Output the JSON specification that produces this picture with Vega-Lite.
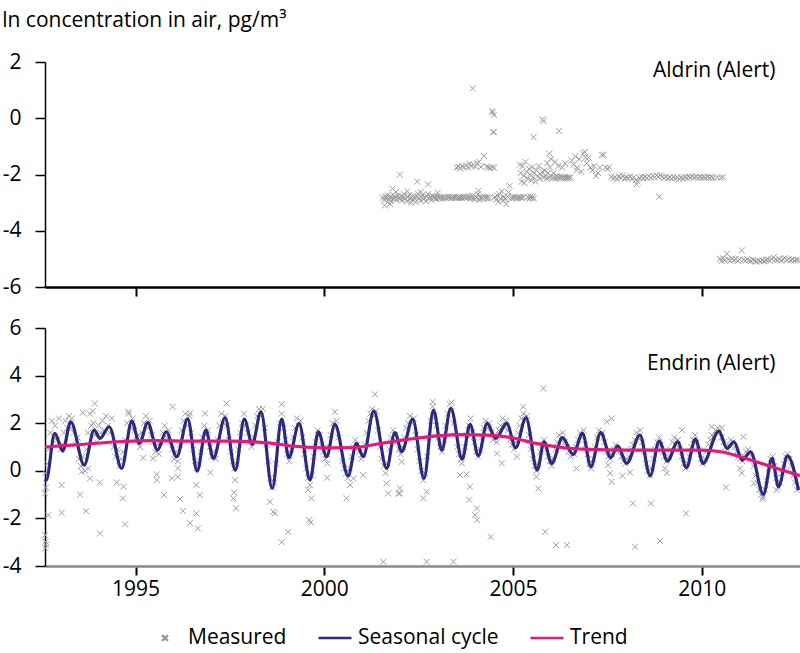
{
"$schema": "https://vega.github.io/schema/vega-lite/v6.json",
"padding": {"left": 2, "right": 0, "top": 10, "bottom": 4},
"title": {"text": "ln concentration in air, pg/m³", "anchor": "start", "frame": "bounds", "fontSize": 21, "fontWeight": "normal", "font": "Open Sans", "color": "black", "offset": 20},
"config": {
  "view": {"stroke": null},
  "font": "Open Sans",
  "axis": {"grid": false, "domainColor": "black", "tickColor": "black", "labelColor": "black", "labelFontSize": 21, "labelFont": "Open Sans", "title": null}
},
"spacing": 20,
"datasets": {
"aldrin": [
{"x":2001.55,"y":-2.82},{"x":2001.58,"y":-2.9},{"x":2001.61,"y":-2.78},{"x":2001.64,"y":-2.85},{"x":2001.67,"y":-2.75},{"x":2001.7,"y":-2.88},{"x":2001.73,"y":-2.8},{"x":2001.76,"y":-2.95},{"x":2001.79,"y":-2.84},{"x":2001.82,"y":-2.72},{"x":2001.85,"y":-2.86},{"x":2001.88,"y":-2.79},{"x":2001.91,"y":-2.9},{"x":2001.94,"y":-2.76},{"x":2001.97,"y":-2.83},{"x":2002.0,"y":-2.88},{"x":2002.03,"y":-2.78},{"x":2002.06,"y":-2.92},{"x":2002.09,"y":-2.81},{"x":2002.12,"y":-2.7},{"x":2002.15,"y":-2.86},{"x":2002.18,"y":-2.95},{"x":2002.21,"y":-2.8},{"x":2002.24,"y":-2.74},{"x":2002.27,"y":-2.87},{"x":2002.3,"y":-2.82},{"x":2002.33,"y":-2.9},{"x":2002.36,"y":-2.76},{"x":2002.39,"y":-2.84},{"x":2002.42,"y":-2.98},{"x":2002.45,"y":-2.79},{"x":2002.48,"y":-2.68},{"x":2002.51,"y":-2.85},{"x":2002.54,"y":-2.93},{"x":2002.57,"y":-2.8},{"x":2002.6,"y":-2.72},{"x":2002.63,"y":-2.88},{"x":2002.66,"y":-2.83},{"x":2002.69,"y":-2.95},{"x":2002.72,"y":-2.78},{"x":2002.75,"y":-2.7},{"x":2002.78,"y":-2.86},{"x":2002.81,"y":-2.81},{"x":2002.84,"y":-2.9},{"x":2002.87,"y":-2.76},{"x":2002.9,"y":-2.84},{"x":2002.93,"y":-2.8},{"x":2002.96,"y":-2.87},{"x":2002.99,"y":-2.78},{"x":2003.02,"y":-2.83},{"x":2003.05,"y":-2.8},{"x":2003.08,"y":-2.85},{"x":2003.11,"y":-2.81},{"x":2003.14,"y":-2.84},{"x":2003.17,"y":-2.79},{"x":2003.2,"y":-2.82},{"x":2003.23,"y":-2.84},{"x":2003.26,"y":-2.8},{"x":2003.29,"y":-2.83},{"x":2003.32,"y":-2.81},{"x":2003.35,"y":-2.84},{"x":2003.38,"y":-2.82},{"x":2003.41,"y":-2.8},{"x":2003.44,"y":-2.83},{"x":2003.47,"y":-2.81},{"x":2003.5,"y":-2.84},{"x":2003.53,"y":-2.82},{"x":2003.56,"y":-2.8},{"x":2003.59,"y":-2.83},{"x":2003.62,"y":-2.81},{"x":2003.65,"y":-2.84},{"x":2003.68,"y":-2.8},{"x":2003.71,"y":-2.82},{"x":2003.74,"y":-2.79},{"x":2003.77,"y":-2.84},{"x":2003.8,"y":-2.81},{"x":2003.83,"y":-2.78},{"x":2003.86,"y":-2.86},{"x":2003.89,"y":-2.8},{"x":2003.92,"y":-2.75},{"x":2003.95,"y":-2.84},{"x":2003.98,"y":-2.88},{"x":2004.01,"y":-2.78},{"x":2004.04,"y":-2.83},{"x":2004.07,"y":-2.7},{"x":2004.1,"y":-2.9},{"x":2004.13,"y":-2.8},{"x":2004.16,"y":-2.86},{"x":2004.19,"y":-2.82},{"x":2004.22,"y":-2.85},{"x":2004.25,"y":-2.8},{"x":2004.28,"y":-2.84},{"x":2004.31,"y":-2.81},{"x":2004.34,"y":-2.86},{"x":2004.37,"y":-2.82},
{"x":2001.74,"y":-3.05},{"x":2001.6,"y":-3.1},{"x":2001.81,"y":-2.5},{"x":2002.0,"y":-2.0},{"x":2002.46,"y":-2.25},{"x":2002.75,"y":-2.35},{"x":2004.08,"y":-2.58},{"x":2001.9,"y":-2.62},{"x":2002.2,"y":-2.6},{"x":2002.3,"y":-3.0},{"x":2002.55,"y":-2.62},{"x":2003.0,"y":-2.65},
{"x":2004.52,"y":-2.8},{"x":2004.55,"y":-2.9},{"x":2004.58,"y":-2.75},{"x":2004.61,"y":-2.98},{"x":2004.64,"y":-2.7},{"x":2004.67,"y":-2.85},{"x":2004.7,"y":-2.6},{"x":2004.73,"y":-2.92},{"x":2004.76,"y":-2.8},{"x":2004.79,"y":-2.88},{"x":2004.82,"y":-3.05},{"x":2004.85,"y":-2.78},{"x":2004.88,"y":-2.64},{"x":2004.91,"y":-2.4},{"x":2004.94,"y":-2.82},{"x":2004.97,"y":-2.86},{"x":2005.0,"y":-2.8},{"x":2005.03,"y":-2.83},{"x":2005.06,"y":-2.79},{"x":2005.09,"y":-2.84},{"x":2005.12,"y":-2.81},{"x":2005.15,"y":-2.83},{"x":2005.18,"y":-2.8},{"x":2005.21,"y":-2.82},{"x":2005.24,"y":-2.84},{"x":2005.27,"y":-2.8},
{"x":2005.4,"y":-2.8},{"x":2005.43,"y":-2.86},{"x":2005.46,"y":-2.78},{"x":2005.49,"y":-2.84},{"x":2005.52,"y":-2.8},{"x":2005.55,"y":-2.85},
{"x":2003.93,"y":1.06},{"x":2004.46,"y":0.2},{"x":2004.49,"y":0.12},{"x":2004.44,"y":0.25},{"x":2004.49,"y":-0.49},{"x":2004.47,"y":-0.5},{"x":2005.78,"y":-0.04},{"x":2005.81,"y":-0.1},{"x":2006.22,"y":-0.45},{"x":2005.54,"y":-0.67},{"x":2004.23,"y":-1.34},
{"x":2003.5,"y":-1.75},{"x":2003.55,"y":-1.72},{"x":2003.6,"y":-1.78},{"x":2003.65,"y":-1.7},{"x":2003.7,"y":-1.74},{"x":2003.75,"y":-1.68},{"x":2003.8,"y":-1.76},{"x":2003.85,"y":-1.62},{"x":2003.9,"y":-1.7},{"x":2003.95,"y":-1.65},{"x":2004.0,"y":-1.72},{"x":2004.05,"y":-1.6},{"x":2004.1,"y":-1.55},{"x":2004.15,"y":-1.73},{"x":2004.3,"y":-1.72},{"x":2004.35,"y":-1.75},{"x":2004.4,"y":-1.78},{"x":2004.45,"y":-1.74},{"x":2004.5,"y":-1.76},
{"x":2005.18,"y":-1.65},{"x":2005.2,"y":-1.95},{"x":2005.23,"y":-2.25},{"x":2005.25,"y":-1.7},{"x":2005.28,"y":-2.05},{"x":2005.3,"y":-2.3},{"x":2005.33,"y":-1.55},{"x":2005.36,"y":-1.9},{"x":2005.39,"y":-2.15},{"x":2005.42,"y":-1.8},{"x":2005.45,"y":-2.0},{"x":2005.48,"y":-2.2},{"x":2005.5,"y":-1.75},{"x":2005.53,"y":-2.1},{"x":2005.56,"y":-1.95},{"x":2005.59,"y":-2.25},{"x":2005.62,"y":-1.85},{"x":2005.65,"y":-2.05},{"x":2005.68,"y":-1.7},{"x":2005.71,"y":-2.15},{"x":2005.74,"y":-2.0},{"x":2005.77,"y":-1.9},{"x":2005.8,"y":-2.1},{"x":2005.83,"y":-1.85},{"x":2005.86,"y":-2.05},{"x":2005.89,"y":-2.15},{"x":2005.92,"y":-1.95},{"x":2005.95,"y":-2.1},{"x":2005.98,"y":-1.75},{"x":2006.01,"y":-2.05},{"x":2006.04,"y":-2.12},{"x":2006.07,"y":-1.95},{"x":2006.1,"y":-2.1},{"x":2006.13,"y":-2.15},{"x":2006.16,"y":-2.05},{"x":2006.19,"y":-2.1},{"x":2006.22,"y":-2.13},{"x":2006.25,"y":-2.08},{"x":2006.28,"y":-2.12},{"x":2006.31,"y":-2.1},{"x":2006.34,"y":-2.14},{"x":2006.37,"y":-2.09},{"x":2006.4,"y":-2.12},{"x":2006.43,"y":-2.1},{"x":2006.46,"y":-2.13},{"x":2006.49,"y":-2.1},{"x":2006.52,"y":-2.12},
{"x":2005.9,"y":-1.6},{"x":2006.0,"y":-1.45},{"x":2006.12,"y":-1.55},{"x":2006.2,"y":-1.7},{"x":2006.3,"y":-1.75},{"x":2006.38,"y":-1.6},{"x":2005.96,"y":-1.25},
{"x":2006.55,"y":-1.5},{"x":2006.6,"y":-1.65},{"x":2006.65,"y":-1.35},{"x":2006.7,"y":-1.75},{"x":2006.75,"y":-1.45},{"x":2006.8,"y":-1.9},{"x":2006.85,"y":-1.25},{"x":2006.9,"y":-1.2},{"x":2006.95,"y":-1.6},{"x":2007.0,"y":-1.4},{"x":2007.05,"y":-1.75},{"x":2007.1,"y":-1.85},{"x":2007.15,"y":-1.7},{"x":2007.2,"y":-2.05},{"x":2007.25,"y":-1.95},{"x":2007.3,"y":-1.75},{"x":2007.35,"y":-1.3},{"x":2007.4,"y":-1.3},{"x":2007.45,"y":-1.75},{"x":2007.5,"y":-1.8},{"x":2007.55,"y":-1.75},{"x":2006.68,"y":-1.85},{"x":2006.92,"y":-1.4},
{"x":2007.6,"y":-2.08},{"x":2007.65,"y":-2.14},{"x":2007.7,"y":-2.1},{"x":2007.75,"y":-2.17},{"x":2007.8,"y":-2.06},{"x":2007.85,"y":-2.12},{"x":2007.9,"y":-2.04},{"x":2007.95,"y":-2.15},{"x":2008.0,"y":-2.1},{"x":2008.05,"y":-2.13},{"x":2008.1,"y":-2.07},{"x":2008.15,"y":-2.16},{"x":2008.2,"y":-2.1},{"x":2008.25,"y":-2.2},{"x":2008.27,"y":-2.35},{"x":2008.3,"y":-2.25},{"x":2008.35,"y":-2.12},{"x":2008.4,"y":-2.08},{"x":2008.45,"y":-2.13},{"x":2008.5,"y":-2.09},{"x":2008.55,"y":-2.12},{"x":2008.6,"y":-2.06},{"x":2008.65,"y":-2.11},{"x":2008.7,"y":-2.05},{"x":2008.75,"y":-2.1},{"x":2008.8,"y":-2.03},{"x":2008.85,"y":-2.08},{"x":2008.87,"y":-2.79},{"x":2008.9,"y":-2.02},{"x":2008.95,"y":-2.07},{"x":2009.0,"y":-2.12},{"x":2009.05,"y":-2.08},{"x":2009.1,"y":-2.14},{"x":2009.15,"y":-2.1},{"x":2009.2,"y":-2.15},{"x":2009.25,"y":-2.09},{"x":2009.3,"y":-2.13},{"x":2009.35,"y":-2.1},{"x":2009.4,"y":-2.16},{"x":2009.45,"y":-2.11},{"x":2009.5,"y":-2.14},{"x":2009.55,"y":-2.09},{"x":2009.6,"y":-2.12},{"x":2009.65,"y":-2.08},{"x":2009.7,"y":-2.1},{"x":2009.75,"y":-2.06},{"x":2009.8,"y":-2.11},{"x":2009.85,"y":-2.07},{"x":2009.9,"y":-2.12},{"x":2009.95,"y":-2.08},{"x":2010.0,"y":-2.11},{"x":2010.05,"y":-2.09},{"x":2010.1,"y":-2.12},{"x":2010.15,"y":-2.08},{"x":2010.2,"y":-2.11},{"x":2010.25,"y":-2.1},{"x":2010.3,"y":-2.12},{"x":2010.4,"y":-2.1},{"x":2010.5,"y":-2.11},{"x":2010.56,"y":-2.1},
{"x":2010.48,"y":-5.0},{"x":2010.52,"y":-5.08},{"x":2010.56,"y":-4.98},{"x":2010.6,"y":-5.05},{"x":2010.66,"y":-4.82},{"x":2010.7,"y":-5.02},{"x":2010.75,"y":-5.06},{"x":2010.8,"y":-4.99},{"x":2010.85,"y":-5.04},{"x":2010.9,"y":-5.0},{"x":2010.95,"y":-5.07},{"x":2011.0,"y":-5.02},{"x":2011.06,"y":-4.7},{"x":2011.1,"y":-5.03},{"x":2011.15,"y":-5.06},{"x":2011.2,"y":-5.01},{"x":2011.25,"y":-5.05},{"x":2011.3,"y":-5.08},{"x":2011.35,"y":-5.03},{"x":2011.4,"y":-5.07},{"x":2011.45,"y":-5.1},{"x":2011.5,"y":-5.06},{"x":2011.55,"y":-5.09},{"x":2011.6,"y":-5.05},{"x":2011.65,"y":-5.08},{"x":2011.7,"y":-5.04},{"x":2011.75,"y":-5.02},{"x":2011.8,"y":-5.06},{"x":2011.85,"y":-5.0},{"x":2011.9,"y":-4.95},{"x":2011.95,"y":-5.03},{"x":2012.0,"y":-5.05},{"x":2012.05,"y":-5.0},{"x":2012.1,"y":-5.06},{"x":2012.15,"y":-5.02},{"x":2012.2,"y":-4.97},{"x":2012.25,"y":-5.04},{"x":2012.3,"y":-5.0},{"x":2012.35,"y":-5.05},{"x":2012.4,"y":-5.02},{"x":2012.45,"y":-5.06},{"x":2012.5,"y":-5.03},{"x":2012.55,"y":-5.05}
],
"endrin": [
{"x":1992.61,"y":-0.1},{"x":1992.63,"y":-0.7},{"x":1992.66,"y":0.3},{"x":1992.7,"y":0.9},{"x":1992.74,"y":1.6},{"x":1992.78,"y":2.1},{"x":1992.83,"y":1.4},{"x":1992.87,"y":1.9},{"x":1992.92,"y":1.3},{"x":1992.97,"y":2.2},{"x":1993.02,"y":0.9},{"x":1993.06,"y":1.1},{"x":1993.1,"y":1.6},{"x":1993.14,"y":2.1},{"x":1993.19,"y":1.8},{"x":1993.23,"y":2.3},{"x":1993.28,"y":1.8},{"x":1993.31,"y":2.2},{"x":1993.36,"y":1.6},{"x":1993.41,"y":1.1},{"x":1993.46,"y":1.4},{"x":1993.5,"y":0.5},{"x":1993.55,"y":0.2},{"x":1993.6,"y":0.6},{"x":1993.66,"y":0.0},{"x":1993.7,"y":0.9},{"x":1993.74,"y":1.6},{"x":1993.79,"y":2.4},{"x":1993.83,"y":1.9},{"x":1993.88,"y":2.0},{"x":1993.92,"y":1.5},{"x":1993.97,"y":1.2},{"x":1994.02,"y":1.9},{"x":1994.07,"y":1.6},{"x":1994.12,"y":2.1},{"x":1994.17,"y":1.7},{"x":1994.22,"y":2.3},{"x":1994.27,"y":1.9},{"x":1994.32,"y":1.6},{"x":1994.37,"y":2.2},{"x":1994.42,"y":1.0},{"x":1994.47,"y":0.6},{"x":1994.52,"y":0.9},{"x":1994.57,"y":0.2},{"x":1994.62,"y":0.5},{"x":1994.67,"y":0.8},{"x":1994.72,"y":1.3},{"x":1994.77,"y":2.0},{"x":1994.82,"y":2.4},{"x":1994.87,"y":1.8},{"x":1994.92,"y":2.2},{"x":1994.97,"y":1.7},{"x":1995.02,"y":1.3},{"x":1995.07,"y":1.5},{"x":1995.12,"y":1.0},{"x":1995.17,"y":1.6},{"x":1995.22,"y":2.0},{"x":1995.27,"y":2.3},{"x":1995.32,"y":1.8},{"x":1995.37,"y":2.1},{"x":1995.42,"y":1.5},{"x":1995.47,"y":1.2},{"x":1995.52,"y":0.8},{"x":1995.57,"y":1.1},{"x":1995.62,"y":0.7},{"x":1995.67,"y":1.2},{"x":1995.72,"y":1.6},{"x":1995.77,"y":1.9},{"x":1995.82,"y":1.4},{"x":1995.87,"y":1.7},{"x":1995.92,"y":1.2},{"x":1995.97,"y":0.9},{"x":1996.02,"y":0.5},{"x":1996.07,"y":0.8},{"x":1996.12,"y":0.4},{"x":1996.17,"y":1.1},{"x":1996.22,"y":1.7},{"x":1996.27,"y":2.1},{"x":1996.32,"y":2.4},{"x":1996.37,"y":1.9},{"x":1996.42,"y":2.3},{"x":1996.47,"y":1.6},{"x":1996.52,"y":0.9},{"x":1996.57,"y":0.4},{"x":1996.62,"y":0.1},{"x":1996.67,"y":0.3},{"x":1996.72,"y":0.8},{"x":1996.77,"y":1.4},{"x":1996.82,"y":1.9},{"x":1996.87,"y":1.5},{"x":1996.92,"y":1.7},{"x":1996.97,"y":1.0},{"x":1997.02,"y":0.6},{"x":1997.07,"y":0.8},{"x":1997.12,"y":0.5},{"x":1997.17,"y":1.3},{"x":1997.22,"y":1.9},{"x":1997.27,"y":2.4},{"x":1997.32,"y":2.0},{"x":1997.37,"y":2.3},{"x":1997.42,"y":1.9},{"x":1997.47,"y":1.3},{"x":1997.52,"y":0.8},{"x":1997.57,"y":0.4},{"x":1997.62,"y":0.1},{"x":1997.67,"y":0.3},{"x":1997.72,"y":0.9},{"x":1997.77,"y":1.6},{"x":1997.82,"y":2.0},{"x":1997.87,"y":2.4},{"x":1997.92,"y":1.9},{"x":1997.97,"y":1.6},{"x":1998.02,"y":1.2},{"x":1998.07,"y":1.0},{"x":1998.12,"y":1.4},{"x":1998.17,"y":1.9},{"x":1998.22,"y":2.3},{"x":1998.27,"y":2.6},{"x":1998.32,"y":2.3},{"x":1998.37,"y":2.6},{"x":1998.42,"y":1.8},{"x":1998.47,"y":1.1},{"x":1998.52,"y":0.4},{"x":1998.57,"y":-0.3},{"x":1998.62,"y":-0.7},{"x":1998.67,"y":-0.5},{"x":1998.72,"y":0.3},{"x":1998.77,"y":1.2},{"x":1998.82,"y":2.0},{"x":1998.87,"y":2.4},{"x":1998.92,"y":1.8},{"x":1998.97,"y":1.3},{"x":1999.02,"y":0.7},{"x":1999.07,"y":0.4},{"x":1999.12,"y":0.9},{"x":1999.17,"y":1.4},{"x":1999.22,"y":1.8},{"x":1999.27,"y":2.2},{"x":1999.32,"y":1.9},{"x":1999.37,"y":2.1},{"x":1999.42,"y":1.4},{"x":1999.47,"y":0.7},{"x":1999.52,"y":0.1},{"x":1999.57,"y":-0.3},{"x":1999.62,"y":-0.6},{"x":1999.67,"y":-0.2},{"x":1999.72,"y":0.6},{"x":1999.77,"y":1.2},{"x":1999.82,"y":1.7},{"x":1999.87,"y":1.5},{"x":1999.92,"y":1.1},{"x":1999.97,"y":0.8},{"x":2000.02,"y":0.5},{"x":2000.07,"y":0.7},{"x":2000.12,"y":1.0},{"x":2000.17,"y":1.5},{"x":2000.22,"y":2.0},{"x":2000.27,"y":1.8},{"x":2000.32,"y":2.1},{"x":2000.37,"y":1.4},{"x":2000.42,"y":0.9},{"x":2000.47,"y":0.4},{"x":2000.52,"y":0.1},{"x":2000.57,"y":-0.1},{"x":2000.62,"y":-0.3},{"x":2000.67,"y":0.1},{"x":2000.72,"y":0.6},{"x":2000.77,"y":1.0},{"x":2000.82,"y":1.3},{"x":2000.87,"y":1.1},{"x":2000.92,"y":0.8},{"x":2000.97,"y":0.5},{"x":2001.02,"y":0.7},{"x":2001.07,"y":1.1},{"x":2001.12,"y":1.6},{"x":2001.17,"y":2.1},{"x":2001.22,"y":2.4},{"x":2001.27,"y":2.6},{"x":2001.32,"y":2.3},{"x":2001.37,"y":2.5},{"x":2001.42,"y":1.7},{"x":2001.47,"y":1.0},{"x":2001.52,"y":0.5},{"x":2001.57,"y":0.2},{"x":2001.62,"y":-0.1},{"x":2001.67,"y":0.3},{"x":2001.72,"y":0.9},{"x":2001.77,"y":1.4},{"x":2001.82,"y":1.7},{"x":2001.87,"y":1.5},{"x":2001.92,"y":1.2},{"x":2001.97,"y":0.9},{"x":2002.02,"y":0.7},{"x":2002.07,"y":1.0},{"x":2002.12,"y":1.4},{"x":2002.17,"y":1.8},{"x":2002.22,"y":2.0},{"x":2002.27,"y":2.3},{"x":2002.32,"y":2.0},{"x":2002.37,"y":2.2},{"x":2002.42,"y":1.5},{"x":2002.47,"y":0.9},{"x":2002.52,"y":0.4},{"x":2002.57,"y":0.0},{"x":2002.62,"y":-0.4},{"x":2002.67,"y":-0.1},{"x":2002.72,"y":0.6},{"x":2002.77,"y":1.4},{"x":2002.82,"y":2.1},{"x":2002.87,"y":2.7},{"x":2002.92,"y":2.3},{"x":2002.97,"y":1.9},{"x":2003.02,"y":1.4},{"x":2003.07,"y":1.0},{"x":2003.12,"y":0.8},{"x":2003.17,"y":1.3},{"x":2003.22,"y":1.9},{"x":2003.27,"y":2.4},{"x":2003.32,"y":2.8},{"x":2003.37,"y":2.5},{"x":2003.42,"y":2.0},{"x":2003.47,"y":1.5},{"x":2003.52,"y":1.0},{"x":2003.57,"y":0.7},{"x":2003.62,"y":0.5},{"x":2003.67,"y":0.6},{"x":2003.72,"y":1.0},{"x":2003.77,"y":1.5},{"x":2003.82,"y":1.9},{"x":2003.87,"y":2.2},{"x":2003.92,"y":1.6},{"x":2003.97,"y":1.2},{"x":2004.02,"y":0.8},{"x":2004.07,"y":0.6},{"x":2004.12,"y":0.9},{"x":2004.17,"y":1.4},{"x":2004.22,"y":1.8},{"x":2004.27,"y":2.1},{"x":2004.32,"y":1.8},{"x":2004.37,"y":2.0},{"x":2004.42,"y":1.6},{"x":2004.47,"y":1.3},{"x":2004.52,"y":1.5},{"x":2004.57,"y":1.2},{"x":2004.62,"y":1.7},{"x":2004.67,"y":1.9},{"x":2004.72,"y":2.2},{"x":2004.77,"y":1.8},{"x":2004.82,"y":2.1},{"x":2004.87,"y":1.7},{"x":2004.92,"y":1.3},{"x":2004.97,"y":1.1},{"x":2005.02,"y":0.9},{"x":2005.07,"y":1.2},{"x":2005.12,"y":1.6},{"x":2005.17,"y":1.9},{"x":2005.22,"y":2.2},{"x":2005.27,"y":2.4},{"x":2005.32,"y":2.1},{"x":2005.37,"y":2.3},{"x":2005.42,"y":1.5},{"x":2005.47,"y":0.9},{"x":2005.52,"y":0.5},{"x":2005.57,"y":0.2},{"x":2005.62,"y":0.0},{"x":2005.67,"y":0.3},{"x":2005.72,"y":0.8},{"x":2005.77,"y":1.1},{"x":2005.82,"y":1.3},{"x":2005.87,"y":0.9},{"x":2005.92,"y":0.6},{"x":2005.97,"y":0.4},{"x":2006.02,"y":0.2},{"x":2006.07,"y":0.5},{"x":2006.12,"y":0.9},{"x":2006.17,"y":1.2},{"x":2006.22,"y":1.5},{"x":2006.27,"y":1.3},{"x":2006.32,"y":1.6},{"x":2006.37,"y":1.2},{"x":2006.42,"y":1.0},{"x":2006.47,"y":0.8},{"x":2006.52,"y":0.6},{"x":2006.57,"y":0.9},{"x":2006.62,"y":0.7},{"x":2006.67,"y":1.0},{"x":2006.72,"y":1.3},{"x":2006.77,"y":1.6},{"x":2006.82,"y":1.4},{"x":2006.87,"y":1.7},{"x":2006.92,"y":1.1},{"x":2006.97,"y":0.7},{"x":2007.02,"y":0.3},{"x":2007.07,"y":0.1},{"x":2007.12,"y":0.5},{"x":2007.17,"y":1.0},{"x":2007.22,"y":1.4},{"x":2007.27,"y":1.7},{"x":2007.32,"y":1.5},{"x":2007.37,"y":1.6},{"x":2007.42,"y":1.2},{"x":2007.47,"y":0.8},{"x":2007.52,"y":0.6},{"x":2007.57,"y":0.5},{"x":2007.62,"y":0.7},{"x":2007.67,"y":0.9},{"x":2007.72,"y":1.1},{"x":2007.77,"y":0.9},{"x":2007.82,"y":0.8},{"x":2007.87,"y":0.6},{"x":2007.92,"y":0.4},{"x":2007.97,"y":0.3},{"x":2008.02,"y":0.5},{"x":2008.07,"y":0.6},{"x":2008.12,"y":0.9},{"x":2008.17,"y":1.1},{"x":2008.22,"y":1.3},{"x":2008.27,"y":1.6},{"x":2008.32,"y":1.4},{"x":2008.37,"y":1.7},{"x":2008.42,"y":1.2},{"x":2008.47,"y":0.8},{"x":2008.52,"y":0.3},{"x":2008.57,"y":0.0},{"x":2008.62,"y":-0.2},{"x":2008.67,"y":0.1},{"x":2008.72,"y":0.5},{"x":2008.77,"y":0.9},{"x":2008.82,"y":1.2},{"x":2008.87,"y":1.4},{"x":2008.92,"y":1.1},{"x":2008.97,"y":0.8},{"x":2009.02,"y":0.6},{"x":2009.07,"y":0.4},{"x":2009.12,"y":0.6},{"x":2009.17,"y":0.9},{"x":2009.22,"y":1.2},{"x":2009.27,"y":1.4},{"x":2009.32,"y":1.1},{"x":2009.37,"y":1.3},{"x":2009.42,"y":0.9},{"x":2009.47,"y":0.6},{"x":2009.52,"y":0.3},{"x":2009.57,"y":0.1},{"x":2009.62,"y":0.3},{"x":2009.67,"y":0.6},{"x":2009.72,"y":1.0},{"x":2009.77,"y":1.3},{"x":2009.82,"y":1.5},{"x":2009.87,"y":1.2},{"x":2009.92,"y":0.9},{"x":2009.97,"y":0.5},{"x":2010.02,"y":0.3},{"x":2010.07,"y":0.5},{"x":2010.12,"y":0.8},{"x":2010.17,"y":1.1},{"x":2010.22,"y":1.3},{"x":2010.27,"y":1.5},{"x":2010.32,"y":1.4},{"x":2010.37,"y":1.7},{"x":2010.42,"y":1.8},{"x":2010.47,"y":1.6},{"x":2010.52,"y":1.4},{"x":2010.57,"y":1.2},{"x":2010.62,"y":1.0},{"x":2010.67,"y":0.9},{"x":2010.72,"y":1.1},{"x":2010.77,"y":1.3},{"x":2010.82,"y":1.2},{"x":2010.87,"y":1.0},{"x":2010.92,"y":0.8},{"x":2010.97,"y":0.6},{"x":2011.02,"y":0.5},{"x":2011.07,"y":0.4},{"x":2011.12,"y":0.6},{"x":2011.17,"y":0.8},{"x":2011.22,"y":0.9},{"x":2011.27,"y":0.7},{"x":2011.32,"y":0.6},{"x":2011.37,"y":0.2},{"x":2011.42,"y":-0.2},{"x":2011.47,"y":-0.5},{"x":2011.52,"y":-0.8},{"x":2011.57,"y":-1.0},{"x":2011.62,"y":-1.1},{"x":2011.67,"y":-0.8},{"x":2011.72,"y":-0.4},{"x":2011.77,"y":0.1},{"x":2011.82,"y":0.5},{"x":2011.87,"y":0.6},{"x":2011.92,"y":0.2},{"x":2011.97,"y":-0.3},{"x":2012.02,"y":-0.7},{"x":2012.07,"y":-0.5},{"x":2012.12,"y":-0.1},{"x":2012.17,"y":0.3},{"x":2012.22,"y":0.6},{"x":2012.27,"y":0.7},{"x":2012.32,"y":0.5},{"x":2012.37,"y":0.2},{"x":2012.42,"y":-0.2},{"x":2012.47,"y":-0.5},{"x":2012.52,"y":-0.8},
{"x":1992.6,"y":-0.95},{"x":1992.69,"y":-1.86},{"x":1992.6,"y":-2.7},{"x":1992.63,"y":-3.1},{"x":1992.62,"y":-2.98},{"x":1992.61,"y":-3.25},{"x":1993.04,"y":-0.6},{"x":1993.04,"y":-1.76},{"x":1993.53,"y":-1.0},{"x":1993.69,"y":-1.69},{"x":1994.06,"y":-2.63},{"x":1994.05,"y":-0.49},{"x":1993.57,"y":-0.04},{"x":1993.74,"y":0.1},{"x":1993.79,"y":-0.32},{"x":1994.5,"y":-0.49},{"x":1994.68,"y":-0.67},{"x":1994.66,"y":-1.16},{"x":1994.72,"y":-2.25},{"x":1995.2,"y":0.55},{"x":1995.46,"y":0.52},{"x":1995.56,"y":-0.15},{"x":1995.56,"y":-0.39},{"x":1995.75,"y":-1.02},{"x":1995.96,"y":-0.32},{"x":1996.12,"y":0.1},{"x":1996.12,"y":-0.25},{"x":1996.18,"y":-1.19},{"x":1996.25,"y":-1.69},{"x":1996.44,"y":-2.2},{"x":1996.61,"y":-1.79},{"x":1996.65,"y":-2.42},{"x":1996.61,"y":-0.6},{"x":1996.7,"y":-1.02},{"x":1996.98,"y":-0.07},
{"x":1993.92,"y":2.83},{"x":1993.86,"y":2.51},{"x":1993.6,"y":2.44},{"x":1994.81,"y":2.48},{"x":1995.98,"y":2.69},{"x":1996.84,"y":2.41},{"x":1996.44,"y":2.41},
{"x":1997.41,"y":2.83},{"x":1997.63,"y":-0.39},{"x":1997.61,"y":-0.91},{"x":1997.59,"y":-1.16},{"x":1997.66,"y":-1.58},{"x":1998.56,"y":-1.3},{"x":1998.65,"y":-1.72},{"x":1998.69,"y":-1.79},{"x":1999.04,"y":-2.56},{"x":1998.87,"y":-3.0},{"x":1999.57,"y":-0.81},{"x":1999.66,"y":-1.16},{"x":1999.6,"y":-2.07},{"x":1999.64,"y":-2.17},{"x":2000.08,"y":-0.29},{"x":2000.08,"y":0.31},{"x":2000.59,"y":-1.16},{"x":2000.68,"y":-0.6},{"x":2000.77,"y":-0.32},{"x":2001.03,"y":-0.18},{"x":2001.56,"y":-3.82},{"x":2001.65,"y":-0.53},{"x":2001.69,"y":-0.95},{"x":2001.96,"y":-0.95},{"x":2002.05,"y":0.38},{"x":1998.87,"y":2.79},{"x":2000.28,"y":2.48},{"x":2001.34,"y":3.21},
{"x":2002.0,"y":-0.95},{"x":2002.0,"y":-0.74},{"x":2002.71,"y":-0.88},{"x":2002.62,"y":-1.16},{"x":2003.59,"y":-0.18},{"x":2003.64,"y":0.31},{"x":2003.77,"y":-0.15},{"x":2003.86,"y":-0.67},{"x":2003.84,"y":-1.22},{"x":2004.04,"y":-1.58},{"x":2003.99,"y":-1.86},{"x":2004.05,"y":-2.07},{"x":2004.41,"y":-2.77},{"x":2002.71,"y":-3.82},{"x":2003.42,"y":-3.82},{"x":2004.57,"y":0.73},{"x":2004.7,"y":0.31},{"x":2005.1,"y":0.59},{"x":2005.62,"y":-0.25},{"x":2005.67,"y":-0.74},{"x":2005.85,"y":-2.56},{"x":2006.14,"y":-3.12},{"x":2006.42,"y":-3.12},{"x":2006.68,"y":0.1},{"x":2005.8,"y":3.46},{"x":2002.87,"y":2.9},{"x":2003.37,"y":2.87},{"x":2005.27,"y":2.69},
{"x":2007.48,"y":2.06},{"x":2007.61,"y":2.2},{"x":2007.52,"y":0.24},{"x":2007.57,"y":-0.1},{"x":2007.61,"y":-0.46},{"x":2007.9,"y":-0.21},{"x":2008.1,"y":-0.07},{"x":2008.17,"y":-1.37},{"x":2008.65,"y":-1.37},{"x":2008.23,"y":-3.19},{"x":2008.89,"y":-2.95},{"x":2009.58,"y":-1.79},{"x":2009.02,"y":0.1},{"x":2009.07,"y":-0.1},{"x":2010.64,"y":-0.7},{"x":2011.01,"y":0.1},{"x":2011.06,"y":-0.1},{"x":2011.38,"y":-0.53},{"x":2011.61,"y":-1.19},{"x":2011.98,"y":-0.81},{"x":2009.47,"y":1.71},{"x":2010.26,"y":1.85},{"x":2010.53,"y":1.81},{"x":2011.1,"y":1.43}
],
"seasonal": [
{"x":1992.6,"y":-0.35},{"x":1992.63,"y":-0.4},{"x":1992.86,"y":1.57},{"x":1993.07,"y":0.83},{"x":1993.28,"y":2.06},{"x":1993.64,"y":0.24},{"x":1993.9,"y":1.71},{"x":1994.06,"y":1.36},{"x":1994.3,"y":1.85},{"x":1994.63,"y":0.1},{"x":1994.9,"y":2.09},{"x":1995.1,"y":1.15},{"x":1995.32,"y":2.02},{"x":1995.58,"y":0.87},{"x":1995.81,"y":1.64},{"x":1996.09,"y":0.59},{"x":1996.38,"y":2.18},{"x":1996.63,"y":-0.01},{"x":1996.86,"y":1.71},{"x":1997.06,"y":0.52},{"x":1997.37,"y":2.23},{"x":1997.64,"y":0.03},{"x":1997.88,"y":2.17},{"x":1998.09,"y":1.11},{"x":1998.32,"y":2.48},{"x":1998.62,"y":-0.74},{"x":1998.87,"y":2.17},{"x":1999.06,"y":0.55},{"x":1999.33,"y":1.99},{"x":1999.62,"y":-0.39},{"x":1999.84,"y":1.64},{"x":2000.06,"y":0.59},{"x":2000.28,"y":1.95},{"x":2000.63,"y":-0.21},{"x":2000.85,"y":1.15},{"x":2001.03,"y":0.59},{"x":2001.31,"y":2.51},{"x":2001.65,"y":0.1},{"x":2001.87,"y":1.61},{"x":2002.05,"y":0.8},{"x":2002.34,"y":2.17},{"x":2002.64,"y":-0.32},{"x":2002.89,"y":2.55},{"x":2003.11,"y":0.87},{"x":2003.35,"y":2.62},{"x":2003.65,"y":0.49},{"x":2003.86,"y":1.95},{"x":2004.08,"y":0.63},{"x":2004.31,"y":1.99},{"x":2004.54,"y":1.36},{"x":2004.83,"y":1.99},{"x":2005.07,"y":0.97},{"x":2005.34,"y":2.23},{"x":2005.64,"y":0.03},{"x":2005.82,"y":1.22},{"x":2006.02,"y":0.31},{"x":2006.31,"y":1.39},{"x":2006.59,"y":0.69},{"x":2006.84,"y":1.57},{"x":2007.06,"y":0.17},{"x":2007.32,"y":1.61},{"x":2007.59,"y":0.55},{"x":2007.77,"y":1.05},{"x":2008.01,"y":0.31},{"x":2008.36,"y":1.5},{"x":2008.63,"y":-0.21},{"x":2008.87,"y":1.25},{"x":2009.09,"y":0.41},{"x":2009.36,"y":1.22},{"x":2009.59,"y":0.13},{"x":2009.83,"y":1.33},{"x":2010.03,"y":0.31},{"x":2010.45,"y":1.67},{"x":2010.67,"y":0.94},{"x":2010.85,"y":1.22},{"x":2011.07,"y":0.45},{"x":2011.29,"y":0.8},{"x":2011.63,"y":-0.99},{"x":2011.86,"y":0.52},{"x":2012.03,"y":-0.67},{"x":2012.27,"y":0.63},{"x":2012.56,"y":-0.81}
],
"trend": [
{"x":1992.6,"y":1.0},{"x":1993.5,"y":1.1},{"x":1994.5,"y":1.22},{"x":1995.5,"y":1.27},{"x":1996.5,"y":1.25},{"x":1997.5,"y":1.25},{"x":1998.5,"y":1.17},{"x":1999.3,"y":1.02},{"x":2000.0,"y":0.96},{"x":2000.8,"y":0.98},{"x":2001.5,"y":1.15},{"x":2002.2,"y":1.32},{"x":2003.0,"y":1.47},{"x":2003.7,"y":1.52},{"x":2004.3,"y":1.5},{"x":2005.0,"y":1.38},{"x":2005.6,"y":1.15},{"x":2006.3,"y":0.98},{"x":2007.0,"y":0.9},{"x":2008.0,"y":0.87},{"x":2009.0,"y":0.87},{"x":2010.0,"y":0.87},{"x":2010.5,"y":0.8},{"x":2011.0,"y":0.6},{"x":2011.5,"y":0.35},{"x":2012.0,"y":0.1},{"x":2012.6,"y":-0.21}
]
},
"vconcat": [
{
  "width": 755, "height": 225,
  "layer": [
    {
      "data": {"name": "aldrin"},
      "mark": {"type": "point", "shape": "M-1,-1L1,1M-1,1L1,-1", "filled": false, "size": 36, "strokeWidth": 1, "opacity": 1},
      "encoding": {
        "x": {"field": "x", "type": "quantitative", "scale": {"domain": [1992.6, 2012.6], "nice": false, "zero": false},
              "axis": {"values": [1995, 2000, 2005, 2010], "labels": false, "tickSize": 9, "tickWidth": 2, "domainWidth": 2.5}},
        "y": {"field": "y", "type": "quantitative", "scale": {"domain": [-6, 2], "nice": false, "zero": false},
              "axis": {"values": [-6, -5, -4, -3, -2, -1, 0, 1, 2], "labelExpr": "datum.value % 2 == 0 ? '' + datum.value : ''", "tickSize": 10, "tickWidth": 1.5, "domainWidth": 1.5, "labelPadding": 14}},
        "color": {"datum": "Measured", "type": "nominal",
                  "scale": {"domain": ["Measured", "Seasonal cycle", "Trend"], "range": ["#9c9c9c", "#2c2a7f", "#e5197c"]},
                  "legend": {"orient": "none", "legendX": 102, "legendY": 558, "direction": "horizontal", "title": null,
                             "labelFontSize": 21, "labelFont": "Open Sans", "labelColor": "black", "symbolSize": 1089,
                             "symbolType": {"expr": "datum.value === 'Measured' ? 'M-0.18,-0.18L0.18,0.18M-0.18,0.18L0.18,-0.18' : 'stroke'"},
                             "symbolStrokeWidth": 2.5, "columnPadding": 26, "labelOffset": 5}}
      }
    },
    {
      "data": {"values": [{"label": "Aldrin (Alert)"}]},
      "mark": {"type": "text", "align": "right", "baseline": "middle", "fontSize": 21, "font": "Open Sans", "color": "black"},
      "encoding": {"x": {"datum": 2011.95, "type": "quantitative"}, "y": {"datum": 1.68, "type": "quantitative"}, "text": {"field": "label"}}
    }
  ]
},
{
  "width": 755, "height": 238,
  "layer": [
    {
      "data": {"name": "endrin"},
      "mark": {"type": "point", "shape": "M-1,-1L1,1M-1,1L1,-1", "filled": false, "size": 36, "strokeWidth": 1, "opacity": 1},
      "encoding": {
        "x": {"field": "x", "type": "quantitative", "scale": {"domain": [1992.6, 2012.6], "nice": false, "zero": false},
              "axis": {"values": [1995, 2000, 2005, 2010], "format": "d", "tickSize": 9, "tickWidth": 2, "domainWidth": 2.5, "domainColor": "#8a8a8a", "labelPadding": 3}},
        "y": {"field": "y", "type": "quantitative", "scale": {"domain": [-4, 6], "nice": false, "zero": false},
              "axis": {"values": [-4, -3, -2, -1, 0, 1, 2, 3, 4, 5, 6], "labelExpr": "datum.value % 2 == 0 ? '' + datum.value : ''", "tickSize": 10, "tickWidth": 1.5, "domainWidth": 1.5, "labelPadding": 14}},
        "color": {"datum": "Measured", "type": "nominal"}
      }
    },
    {
      "data": {"name": "seasonal"},
      "mark": {"type": "line", "interpolate": "monotone", "strokeWidth": 3.2},
      "encoding": {"x": {"field": "x", "type": "quantitative"}, "y": {"field": "y", "type": "quantitative"}, "color": {"datum": "Seasonal cycle", "type": "nominal"}}
    },
    {
      "data": {"name": "trend"},
      "mark": {"type": "line", "interpolate": "monotone", "strokeWidth": 3.2},
      "encoding": {"x": {"field": "x", "type": "quantitative"}, "y": {"field": "y", "type": "quantitative"}, "color": {"datum": "Trend", "type": "nominal"}}
    },
    {
      "data": {"values": [{"label": "Endrin (Alert)"}]},
      "mark": {"type": "text", "align": "right", "baseline": "middle", "fontSize": 21, "font": "Open Sans", "color": "black"},
      "encoding": {"x": {"datum": 2011.95, "type": "quantitative"}, "y": {"datum": 4.5, "type": "quantitative"}, "text": {"field": "label"}}
    }
  ]
}
]
}
